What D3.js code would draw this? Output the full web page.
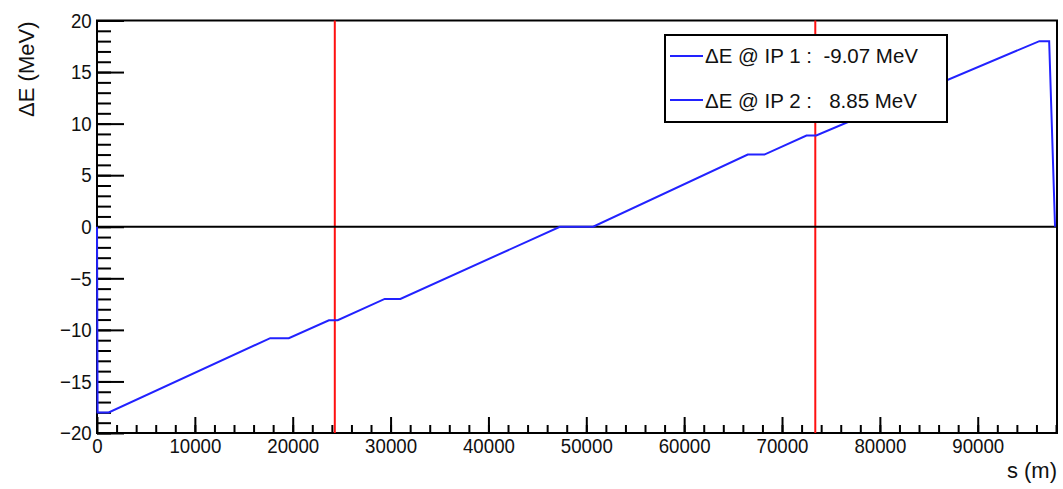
<!DOCTYPE html>
<html>
<head>
<meta charset="utf-8">
<script src="https://cdn.jsdelivr.net/npm/d3@7"></script>
<style>
  body { margin: 0; background: #fff; }
  text { font-family: "Liberation Sans", Arial, sans-serif; }
</style>
</head>
<body>
<div id="chart"></div>
<script>
// energy deviation along the ring
var sPos = [0, 60, 1200, 17700, 19600, 23700, 24600, 29400, 31000, 47300, 50700, 66500, 68200, 72500, 73500, 96300, 97300, 97900];
var dE   = [0, -18, -18, -10.8, -10.8, -9.07, -9.07, -7.0, -7.0, 0, 0, 7.0, 7.0, 8.85, 8.85, 18, 18, 0];

// interaction points
var ipPos = [24300, 73400];
var legendLabels = ['\u0394E @ IP 1 :  -9.07 MeV', '\u0394E @ IP 2 :   8.85 MeV'];

var xMajor = d3.range(0, 90001, 10000);
var xMinor = d3.range(2000, 98001, 2000);
var yMajor = d3.range(-20, 21, 5);
var yMinor = d3.range(-20, 21, 1);

const chart_width = 1063;
const chart_height = 489;
const padL = 97, padR = 1057, padT = 20.5, padB = 433;

var svg = d3.select('#chart')
    .append('svg')
    .attr('width', chart_width)
    .attr('height', chart_height);

var x = d3.scaleLinear().domain([0, 98100]).range([padL, padR]);
var y = d3.scaleLinear().domain([-20, 20]).range([padB, padT]);

// axes
function styleAxis(g) {
    g.select('.domain').remove();
    g.selectAll('line').attr('stroke', '#000').attr('stroke-width', 2);
    g.selectAll('text')
        .attr('font-size', 21)
        .attr('font-family', '"Liberation Sans", Arial, sans-serif')
        .attr('transform', 'scale(0.89,1)')
        .attr('fill', '#111');
}

svg.append('g')
    .attr('transform', 'translate(' + padL + ',0)')
    .call(d3.axisLeft(y).tickValues(yMinor).tickSize(-14).tickFormat(''))
    .call(styleAxis);
svg.append('g')
    .attr('transform', 'translate(' + padL + ',0)')
    .call(d3.axisLeft(y).tickValues(yMajor).tickSize(-27).tickPadding(6))
    .call(styleAxis);

svg.append('g')
    .attr('transform', 'translate(0,' + padB + ')')
    .call(d3.axisBottom(x).tickValues(xMinor).tickSize(-8).tickFormat(''))
    .call(styleAxis);
svg.append('g')
    .attr('transform', 'translate(0,' + padB + ')')
    .call(d3.axisBottom(x).tickValues(xMajor).tickSize(-16).tickPadding(5).tickFormat(d3.format('d')))
    .call(styleAxis);

// frame
svg.append('rect')
    .attr('x', padL).attr('y', padT)
    .attr('width', padR - padL).attr('height', padB - padT)
    .attr('fill', 'none')
    .attr('stroke', '#000')
    .attr('stroke-width', 2);

// red IP markers
svg.selectAll('.ip')
    .data(ipPos)
    .enter()
    .append('line')
    .attr('x1', d => x(d))
    .attr('x2', d => x(d))
    .attr('y1', padT)
    .attr('y2', padB)
    .attr('stroke', '#ff1010')
    .attr('stroke-width', 2);

// zero line
svg.append('line')
    .attr('x1', padL).attr('x2', padR)
    .attr('y1', y(0)).attr('y2', y(0))
    .attr('stroke', '#000')
    .attr('stroke-width', 2);

// the curve
var pts = sPos.map((s, i) => [s, dE[i]]);
var line = d3.line().x(d => x(d[0])).y(d => y(d[1]));
svg.append('path')
    .datum(pts)
    .attr('d', line)
    .attr('fill', 'none')
    .attr('stroke', '#2222ff')
    .attr('stroke-width', 2);

// axis titles
svg.append('text')
    .text('\u0394E (MeV)')
    .attr('transform', 'translate(34,' + (padT + 1) + ') rotate(-90)')
    .attr('text-anchor', 'end')
    .attr('font-size', 22)
    .attr('fill', '#111');

svg.append('text')
    .text('s (m)')
    .attr('x', padR)
    .attr('y', 478)
    .attr('text-anchor', 'end')
    .attr('font-size', 22)
    .attr('fill', '#111');

// legend
var lg = svg.append('g');
lg.append('rect')
    .attr('x', 665).attr('y', 35)
    .attr('width', 282).attr('height', 87)
    .attr('fill', '#fff')
    .attr('stroke', '#000')
    .attr('stroke-width', 2);

lg.selectAll('.lgline')
    .data(legendLabels)
    .enter()
    .append('line')
    .attr('x1', 670).attr('x2', 703)
    .attr('y1', (d, i) => 56 + i * 44)
    .attr('y2', (d, i) => 56 + i * 44)
    .attr('stroke', '#2222ff')
    .attr('stroke-width', 2);

lg.selectAll('.lgtext')
    .data(legendLabels)
    .enter()
    .append('text')
    .text(d => d)
    .attr('x', 705)
    .attr('y', (d, i) => 63 + i * 45)
    .attr('font-size', 20.5)
    .attr('fill', '#111')
    .style('white-space', 'pre');
</script>
</body>
</html>
